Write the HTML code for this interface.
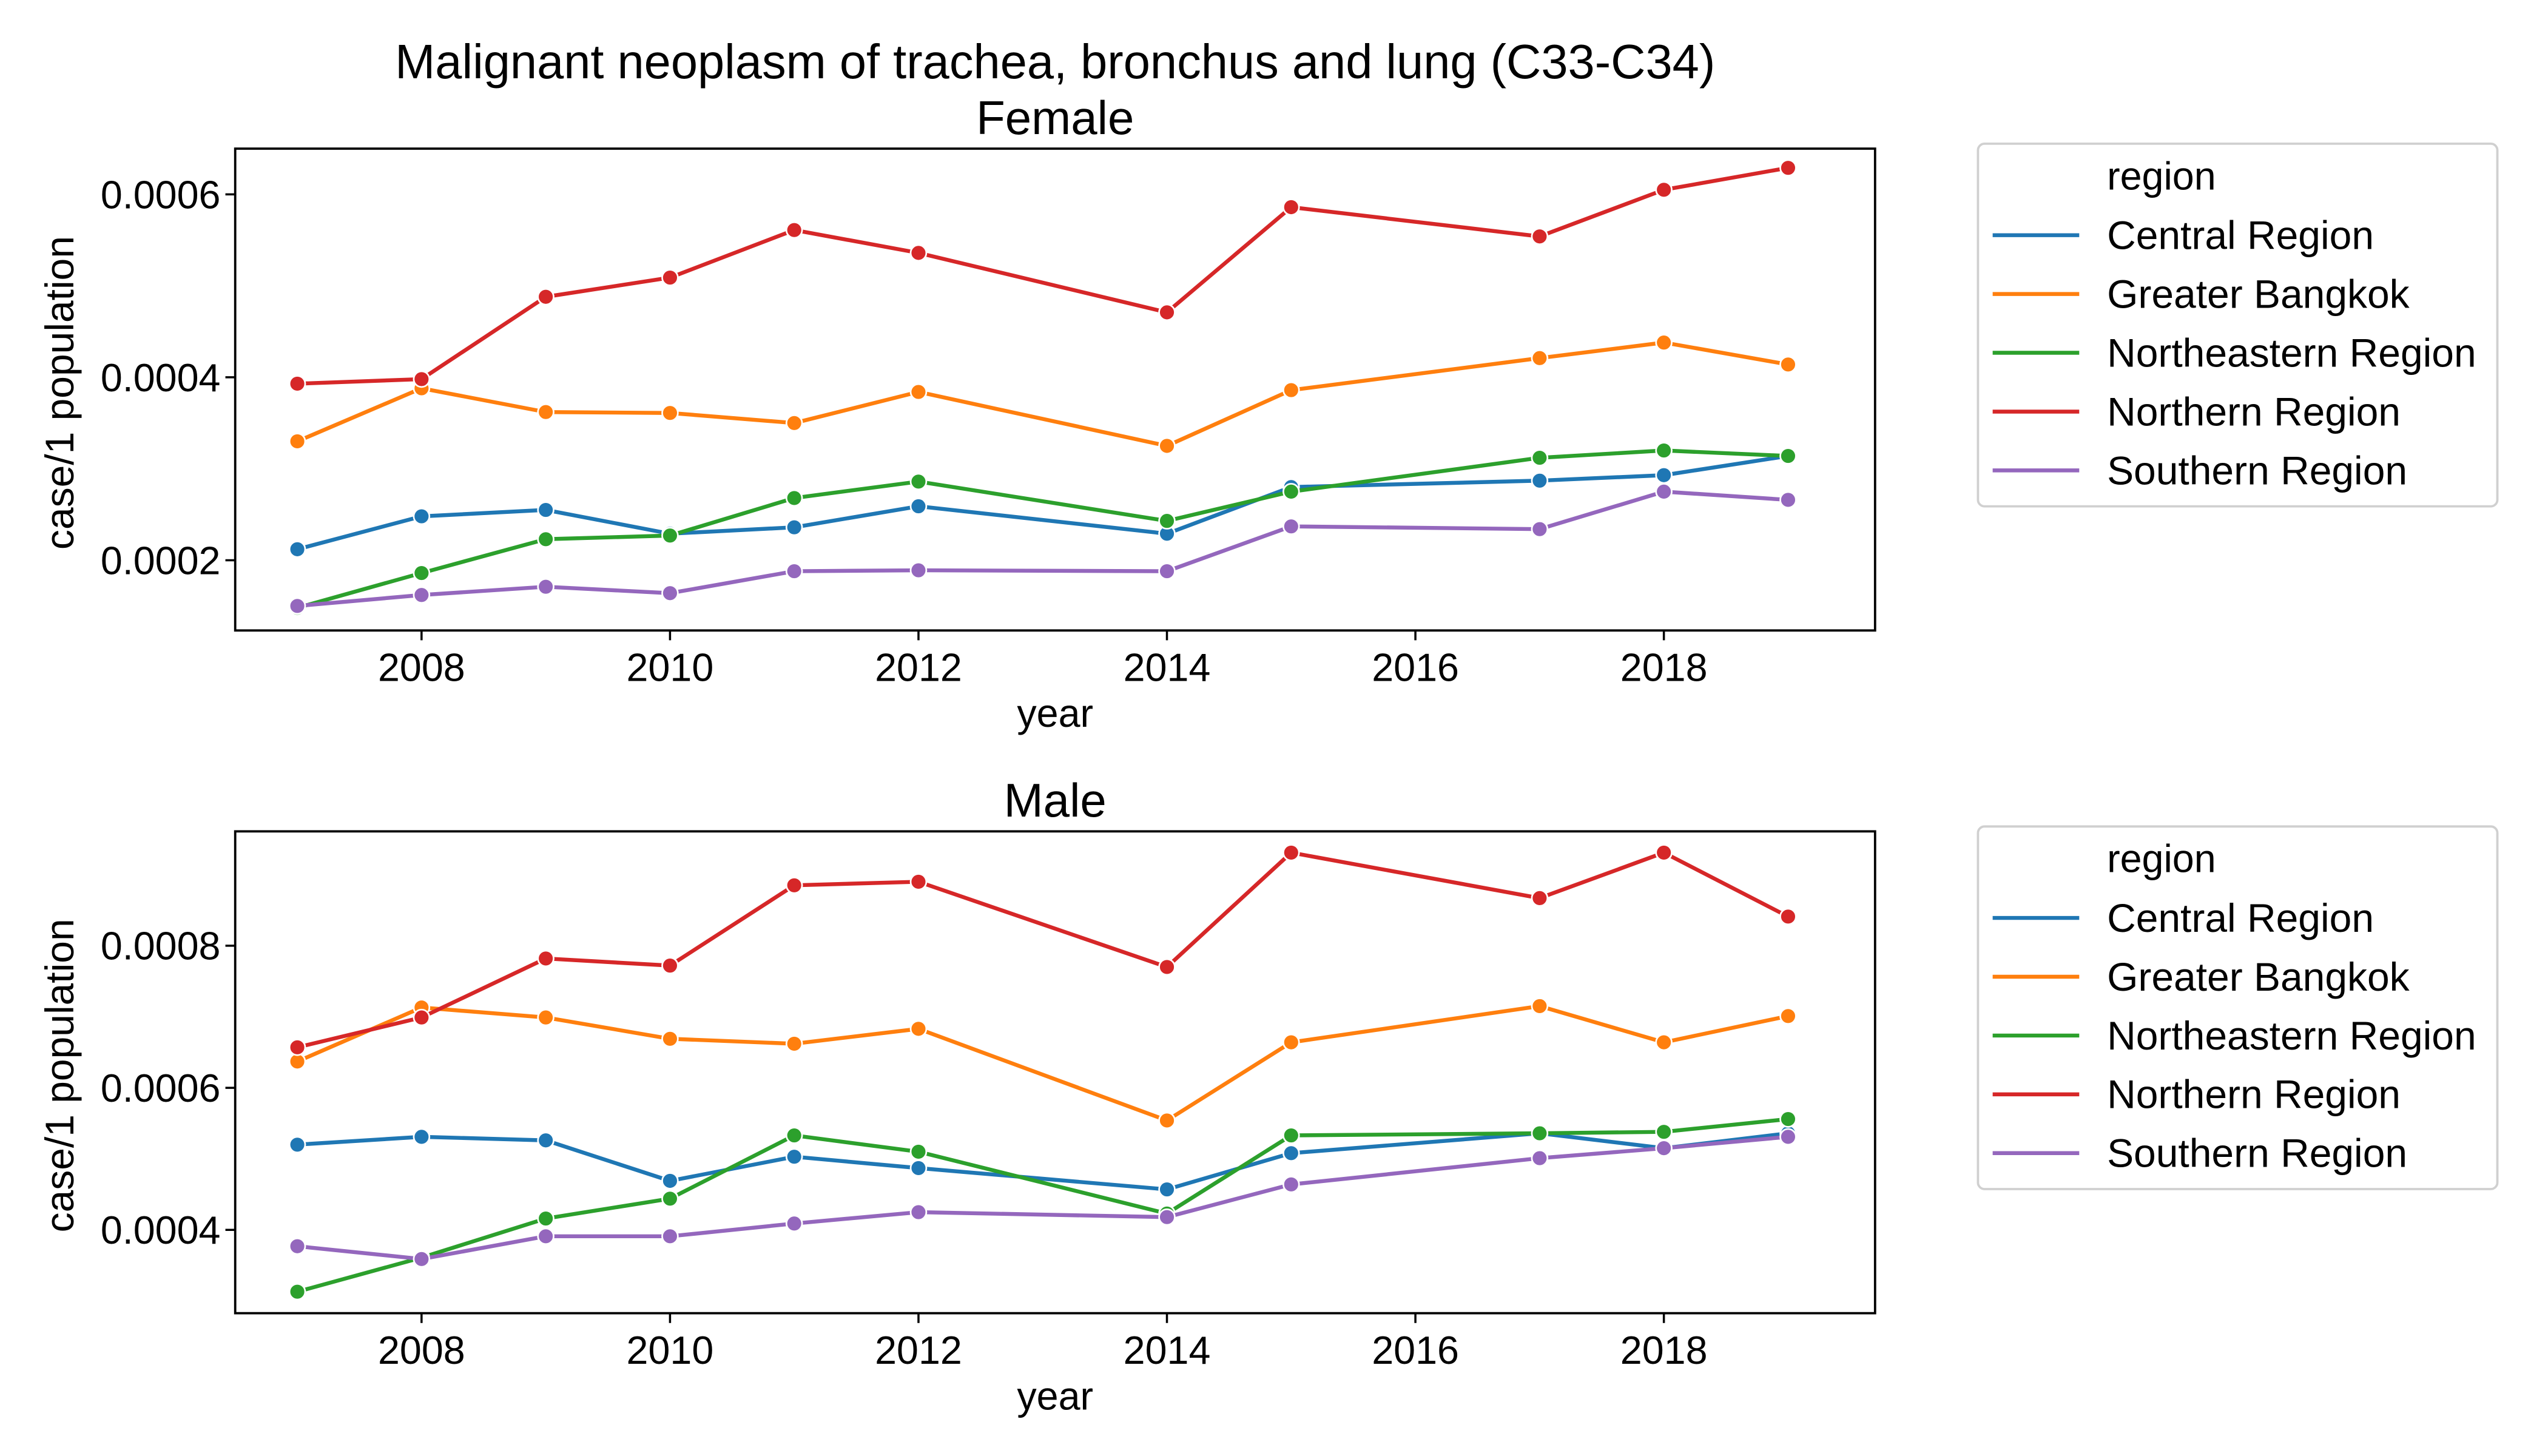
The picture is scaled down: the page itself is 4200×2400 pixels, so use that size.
<!DOCTYPE html>
<html><head><meta charset="utf-8"><style>
html,body{margin:0;padding:0;background:#fff}
svg{display:block}
text{font-family:"Liberation Sans",Arial,sans-serif;fill:#000}
</style></head><body>
<svg id="chart" width="4200" height="2400" viewBox="0 0 1560 891.43" xmlns="http://www.w3.org/2000/svg">
<text x="646" y="48" font-size="29.5" text-anchor="middle">Malignant neoplasm of trachea, bronchus and lung (C33-C34)</text>
<g id="root"></g>
</svg>
<script>
const years=[2007,2008,2009,2010,2011,2012,2014,2015,2017,2018,2019];
const regions=["Central Region","Greater Bangkok","Northeastern Region","Northern Region","Southern Region"];
const colors=["#1f77b4","#ff7f0e","#2ca02c","#d62728","#9467bd"];
const xTicks=[2008,2010,2012,2014,2016,2018];
const femaleTicks=[0.0002,0.0004,0.0006];
const maleTicks=[0.0004,0.0006,0.0008];
const femaleCentral=[0.000212,0.000248,0.000255,0.000229,0.000236,0.000259,0.000229,0.00028,0.000287,0.000293,0.000314];
const femaleBangkok=[0.00033,0.000388,0.000362,0.000361,0.00035,0.000384,0.000325,0.000386,0.000421,0.000438,0.000414];
const femaleNortheast=[0.000148,0.000186,0.000223,0.000227,0.000268,0.000286,0.000243,0.000275,0.000312,0.00032,0.000314];
const femaleNorth=[0.000393,0.000398,0.000488,0.000509,0.000561,0.000536,0.000471,0.000586,0.000554,0.000605,0.000629];
const femaleSouth=[0.00015,0.000162,0.000171,0.000164,0.000188,0.000189,0.000188,0.000237,0.000234,0.000275,0.000266];
const maleCentral=[0.00052,0.000531,0.000526,0.000469,0.000503,0.000487,0.000457,0.000508,0.000536,0.000515,0.000536];
const maleBangkok=[0.000637,0.000713,0.000699,0.000669,0.000662,0.000683,0.000554,0.000664,0.000715,0.000664,0.000701];
const maleNortheast=[0.000313,0.000361,0.000416,0.000444,0.000533,0.00051,0.000423,0.000533,0.000536,0.000538,0.000556];
const maleNorth=[0.000657,0.000699,0.000782,0.000772,0.000885,0.00089,0.00077,0.000931,0.000867,0.000931,0.000841];
const maleSouth=[0.000377,0.000359,0.000391,0.000391,0.000409,0.000425,0.000418,0.000464,0.000501,0.000515,0.000531];

const NS="http://www.w3.org/2000/svg";
const root=document.getElementById('root');
function el(tag,attrs,parent,text){const e=document.createElementNS(NS,tag);for(const k in attrs)e.setAttribute(k,attrs[k]);if(text!==undefined)e.textContent=text;(parent||root).appendChild(e);return e;}
const L=144,R=1148;
function xs(y){return L+ (y-2006.5)/(2019.7-2006.5)*(R-L);}

function panel(name,title,top,bottom,vmin,vmax,ticks,series,legTop){
  const g=el('g',{});
  
  
  const ys=v=>bottom-(v-vmin)/(vmax-vmin)*(bottom-top);
  const t=el('text',{x:646,y:top-9,'font-size':29,'text-anchor':'middle'},g,title);
  
  
  xTicks.forEach(yr=>{
    const x=xs(yr);
    el('line',{x1:x,x2:x,y1:bottom,y2:bottom+6,stroke:'#000','stroke-width':1.3},g);
    const tl=el('text',{x:x,y:bottom+31,'font-size':24,'text-anchor':'middle'},g,String(yr));
    
    
  });
  ticks.forEach(v=>{
    const y=ys(v);
    el('line',{x1:L-6,x2:L,y1:y,y2:y,stroke:'#000','stroke-width':1.3},g);
    const tl=el('text',{x:L-9,y:y+8.5,'font-size':24,'text-anchor':'end'},g,v.toFixed(4));
    
    
  });
  const xl=el('text',{x:646,y:bottom+59,'font-size':24,'text-anchor':'middle'},g,'year');
  
  
  const cy=(top+bottom)/2+2;
  const yl=el('text',{x:45,y:cy,'font-size':24.5,'text-anchor':'middle',transform:`rotate(-90 45 ${cy})`},g,'case/1 population');
  
  
  series.forEach((vals,i)=>{
    const pts=vals.map((v,j)=>xs(years[j]).toFixed(2)+','+ys(v).toFixed(2)).join(' ');
    const pl=el('polyline',{points:pts,fill:'none',stroke:colors[i],'stroke-width':2.4,'stroke-linejoin':'round'},g);
    
    
    vals.forEach((v,j)=>{
      const c=el('circle',{cx:xs(years[j]),cy:ys(v),r:4.8,fill:colors[i],stroke:'#fff','stroke-width':1},g);
      
      
    });
  });
  const frame=el('rect',{x:L,y:top,width:R-L,height:bottom-top,fill:'none',stroke:'#000','stroke-width':1.4},g);
  
  
  const lg=el('g',{},g);
  
  
  el('rect',{x:1211,y:legTop,width:318,height:222,rx:4,fill:'#fff',stroke:'#d0d0d0','stroke-width':1.4},lg);
  const ht=el('text',{x:1290,y:legTop+28,'font-size':24},lg,'region');
  
  
  regions.forEach((r,i)=>{
    const y=legTop+56+i*36;
    el('line',{x1:1220,x2:1273,y1:y,y2:y,stroke:colors[i],'stroke-width':2.4},lg);
    const tt=el('text',{x:1290,y:y+8.5,'font-size':24.5},lg,r);
    
    
  });
}
panel('female','Female',91,386,0.0006-267/112*0.0002,0.0006+28/112*0.0002,femaleTicks,[femaleCentral,femaleBangkok,femaleNortheast,femaleNorth,femaleSouth],88);
panel('male','Male',509,804,0.0008-225/87*0.0002,0.0008+70/87*0.0002,maleTicks,[maleCentral,maleBangkok,maleNortheast,maleNorth,maleSouth],506);
</script>
</body></html>
